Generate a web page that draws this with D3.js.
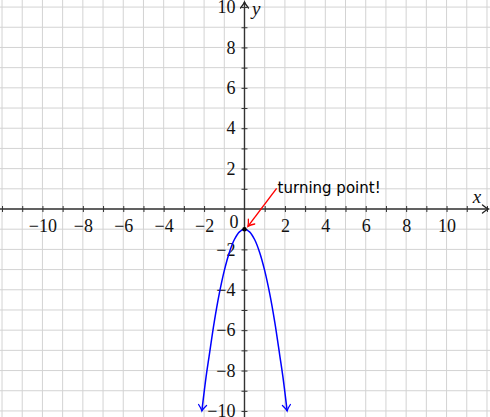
<!DOCTYPE html>
<html>
<head>
<meta charset="utf-8">
<script src="https://cdn.jsdelivr.net/npm/d3@7"></script>
<style>
  html, body { margin: 0; padding: 0; background: #fff; }
  svg { display: block; }
</style>
</head>
<body>
<div id="chart"></div>
<script>
// ---- data ----
const gridX = d3.range(-12, 13);          // vertical grid lines (x values)
const gridY = d3.range(-10, 11);          // horizontal grid lines (y values)
const xTickValues = d3.range(-12, 13).filter(d => d !== 0);
const yTickValues = d3.range(-10, 11).filter(d => d !== 0);
const xTickLabels = [-10, -8, -6, -4, -2, 2, 4, 6, 8, 10];
const yTickLabels = [-10, -8, -6, -4, -2, 2, 4, 6, 8, 10];
// parabola points
const curveX = [-2.11, -1.9, -1.75, -1.5, -1.25, -1, -0.75, -0.5, -0.25, 0, 0.25, 0.5, 0.75, 1, 1.25, 1.5, 1.75, 1.9, 2.11];
const curveY = [-10.0, -8.3, -7.28, -5.61, -4.2, -3.05, -2.15, -1.51, -1.13, -1.0, -1.13, -1.51, -2.15, -3.05, -4.2, -5.61, -7.28, -8.3, -10.0];
const vertex = [0, -1];
const annotationFrom = [1.59, 1.02];
const annotationTo = [0.17, -0.86];
const annotationText = "turning point!";

const W = 490, H = 417;
const x = d3.scaleLinear().domain([-12.1, 12.15]).range([0, W]);
const y = d3.scaleLinear().domain([10.35, -10.3]).range([0, H]);

const svg = d3.select("#chart").append("svg").attr("width", W).attr("height", H);

const defs = svg.append("defs");
function mkMarker(id, color) {
  defs.append("marker")
    .attr("id", id)
    .attr("markerUnits", "userSpaceOnUse")
    .attr("viewBox", "-9 -6 11 12")
    .attr("refX", 0).attr("refY", 0)
    .attr("markerWidth", 11).attr("markerHeight", 12)
    .attr("orient", "auto-start-reverse")
    .append("path")
    .attr("d", "M-6,-4 Q-2.5,-1 0,0 Q-2.5,1 -6,4")
    .attr("fill", "none")
    .attr("stroke", color)
    .attr("stroke-width", 1.3)
    .attr("stroke-linecap", "round");
}
mkMarker("arrBlack", "#222");
mkMarker("arrBlue", "#0000ff");
mkMarker("arrRed", "#ff0000");

// grid
const grid = svg.append("g").attr("stroke", "#d3d3d3").attr("stroke-width", 1);
grid.selectAll("line.v").data(gridX).join("line")
  .attr("x1", d => x(d)).attr("x2", d => x(d))
  .attr("y1", 0).attr("y2", H);
grid.selectAll("line.h").data(gridY).join("line")
  .attr("x1", 0).attr("x2", W)
  .attr("y1", d => y(d)).attr("y2", d => y(d));

const fontSerif = "'Liberation Serif', 'Times New Roman', serif";

// x axis
const xAxis = d3.axisBottom(x)
  .tickValues(xTickValues)
  .tickSizeInner(3).tickSizeOuter(0).tickPadding(7)
  .tickFormat(d => xTickLabels.includes(d) ? d3.format("")(d).replace("-", "\u2212") : "");
const gx = svg.append("g").attr("transform", `translate(0,${y(0)})`).call(xAxis);
gx.select(".domain").remove();
gx.selectAll(".tick line").attr("y1", -3).attr("y2", 3).attr("stroke", "#333").attr("stroke-width", 1);
gx.selectAll(".tick text").attr("font-family", fontSerif).attr("font-size", 18).attr("fill", "#111")
  .attr("dy", "0.71em");

// y axis
const yAxis = d3.axisLeft(y)
  .tickValues(yTickValues)
  .tickSizeInner(3).tickSizeOuter(0).tickPadding(6)
  .tickFormat(d => yTickLabels.includes(d) ? d3.format("")(d).replace("-", "\u2212") : "");
const gy = svg.append("g").attr("transform", `translate(${x(0)},0)`).call(yAxis);
gy.select(".domain").remove();
gy.selectAll(".tick line").attr("x1", -3).attr("x2", 3).attr("stroke", "#333").attr("stroke-width", 1);
gy.selectAll(".tick text").attr("font-family", fontSerif).attr("font-size", 18).attr("fill", "#111");

// axis lines with arrows
svg.append("line")
  .attr("x1", 0).attr("x2", W - 1.5)
  .attr("y1", y(0)).attr("y2", y(0))
  .attr("stroke", "#333").attr("stroke-width", 1.4)
  .attr("marker-end", "url(#arrBlack)");
svg.append("line")
  .attr("x1", x(0)).attr("x2", x(0))
  .attr("y1", H).attr("y2", 2)
  .attr("stroke", "#333").attr("stroke-width", 1.4)
  .attr("marker-end", "url(#arrBlack)");

// origin label
svg.append("text")
  .attr("x", x(0) - 6).attr("y", y(0) + 6)
  .attr("dy", "0.71em")
  .attr("text-anchor", "end")
  .attr("font-family", fontSerif).attr("font-size", 18).attr("fill", "#111")
  .text("0");

// axis names
svg.append("text")
  .attr("x", x(11.5)).attr("y", y(0.3))
  .attr("text-anchor", "middle")
  .attr("font-family", fontSerif).attr("font-style", "italic").attr("font-size", 19).attr("fill", "#111")
  .text("x");
svg.append("text")
  .attr("x", x(0.37)).attr("y", y(9.6))
  .attr("font-family", fontSerif).attr("font-style", "italic").attr("font-size", 19).attr("fill", "#111")
  .text("y");

// parabola
const pts = curveX.map((d, i) => [d, curveY[i]]);
const line = d3.line().x(d => x(d[0])).y(d => y(d[1])).curve(d3.curveCatmullRom);
svg.append("path")
  .attr("d", line(pts))
  .attr("fill", "none")
  .attr("stroke", "#0000ff")
  .attr("stroke-width", 1.5)
  .attr("marker-start", "url(#arrBlue)")
  .attr("marker-end", "url(#arrBlue)");

// vertex dot
svg.append("circle")
  .attr("cx", x(vertex[0])).attr("cy", y(vertex[1]))
  .attr("r", 2.3).attr("fill", "#000");

// annotation arrow
svg.append("line")
  .attr("x1", x(annotationFrom[0])).attr("y1", y(annotationFrom[1]))
  .attr("x2", x(annotationTo[0])).attr("y2", y(annotationTo[1]))
  .attr("stroke", "#ff0000").attr("stroke-width", 1.4)
  .attr("marker-end", "url(#arrRed)");

svg.append("text")
  .attr("x", x(annotationFrom[0]) + 1).attr("y", y(annotationFrom[1]) + 5)
  .attr("font-family", "'DejaVu Sans', sans-serif").attr("font-size", 15).attr("fill", "#000")
  .text(annotationText);
</script>
</body>
</html>
